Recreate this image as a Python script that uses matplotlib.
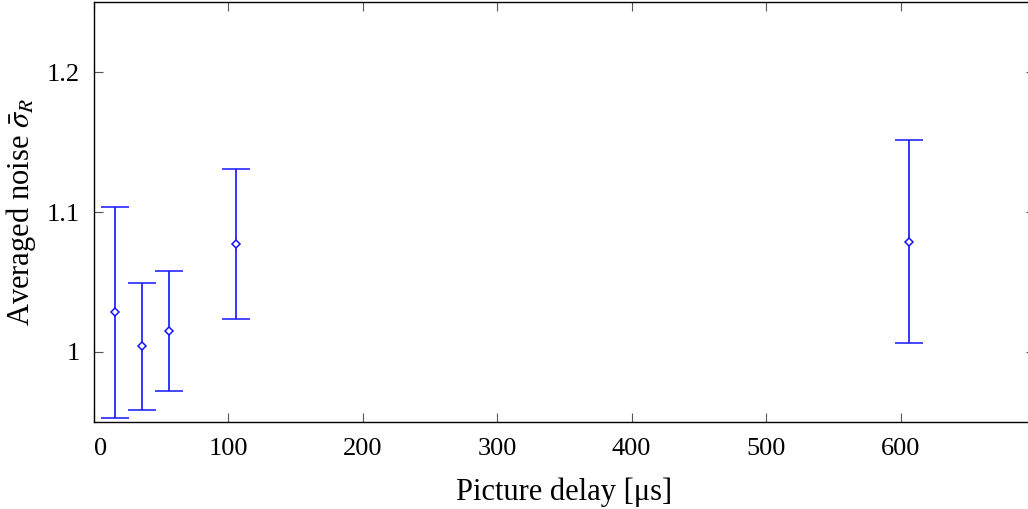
import numpy as np
import matplotlib.pyplot as plt
import matplotlib

matplotlib.rcParams['font.family'] = 'Liberation Serif'
matplotlib.rcParams['mathtext.fontset'] = 'stix'
matplotlib.rcParams['font.size'] = 19

# Picture delay in microseconds and averaged noise with its spread
delay_us = [16, 36, 56, 106, 606]
noise_mean = [1.0282, 1.0041, 1.0150, 1.0770, 1.0787]
noise_err = [0.0755, 0.0455, 0.0429, 0.0537, 0.0727]

fig = plt.figure(figsize=(10.28, 5.09), dpi=100)
ax = fig.add_axes([0.0912, 0.1715, 0.9156, 0.8236])

ax.errorbar(delay_us, noise_mean, yerr=noise_err, fmt='D', color='#1414ff',
            markersize=4.5, markerfacecolor='white', markeredgewidth=1.1,
            elinewidth=1.2, capsize=10, capthick=1.2)

ax.set_xlim(0, 700)
ax.set_ylim(0.95, 1.25)
ax.set_xticks([0, 100, 200, 300, 400, 500, 600])
ax.set_yticks([1.0, 1.1, 1.2])
ax.set_yticklabels(['1', '1.1', '1.2'])

ax.tick_params(direction='in', length=6.5, width=0.8, color='#555555',
               top=True, right=True, labelsize=19)
ax.tick_params(axis='x', pad=12)
ax.tick_params(axis='y', pad=10)
# keep the "0" label inside the axes edge
ax.get_xticklabels()[0].set_horizontalalignment('left')
for side in ax.spines.values():
    side.set_linewidth(1.0)

ax.set_xlabel('Picture delay [μs]', fontsize=22, labelpad=12)
ax.set_ylabel(r'Averaged noise $\bar{\sigma}_R$', fontsize=22, labelpad=6)

fig.savefig('out.png', dpi=100)
